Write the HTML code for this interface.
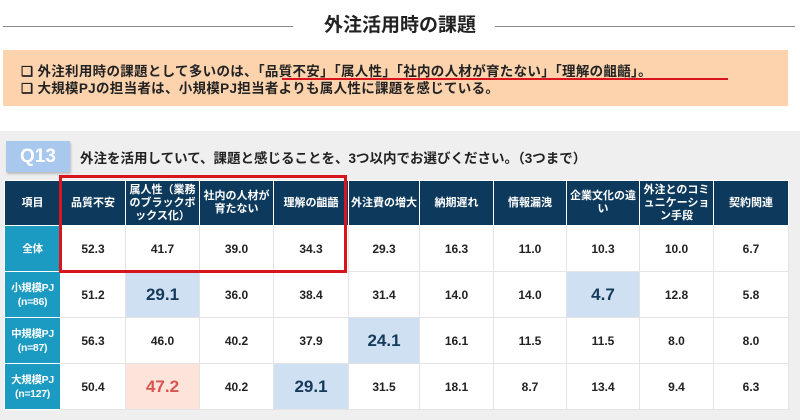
<!DOCTYPE html>
<html><head><meta charset="utf-8"><style>
*{margin:0;padding:0;box-sizing:border-box}
body{width:800px;height:420px;background:#fff;position:relative;overflow:hidden;font-family:"Liberation Sans","Noto Sans CJK JP",sans-serif;color:#222}
.ln{position:absolute;top:26px;height:1px;background:#888}
#title{position:absolute;top:10px;left:0;width:800px;text-align:center;font-size:19px;font-weight:bold;color:#222}
#box{position:absolute;left:3px;top:50px;width:785px;height:56px;background:#fcd3ad;font-size:13.5px;font-weight:bold;padding:13px 0 0 18px;line-height:17px;letter-spacing:0.3px;white-space:nowrap}
#ul{position:absolute;left:282px;top:78px;width:446px;height:2px;background:#d8141c}
#panel{position:absolute;left:0;top:131px;width:800px;height:289px;background:#efefef}
#q{position:absolute;left:6px;top:141px;width:64px;height:31px;background:#a9c8ee;color:#fff;font-size:19px;font-weight:bold;text-align:center;line-height:31px;box-shadow:1px 2px 2px #bbb}
#qt{position:absolute;left:80px;top:147px;font-size:13.5px;font-weight:bold;color:#222}
table{position:absolute;left:4px;top:180px;border-collapse:collapse;table-layout:fixed;background:#fff}
td,th{border:1px solid #e4e4e4;text-align:center;font-size:12px;font-weight:bold}
th{background:#0d3a5c;color:#fff;height:45px;font-size:11px;line-height:13px;border-color:#fff}
td.h{background:#1b9ac2;color:#fff;font-size:10.5px;line-height:14px;border-color:#fff;letter-spacing:-0.3px}
tr.r td{height:46px}
.b{background:#cfe0f2;color:#163a5a;font-size:17px}
.p{background:#fde4da;color:#d9534f;font-size:17px}
#red{position:absolute;left:59px;top:175px;width:288px;height:98px;border:3px solid #d8141c}
</style></head><body>
<div class="ln" style="left:3px;width:290px"></div>
<div class="ln" style="left:495px;width:300px"></div>
<div id="title">外注活用時の課題</div>
<div id="box">❑ 外注利用時の課題として多いのは、「品質不安」「属人性」「社内の人材が育たない」「理解の齟齬」。<br>❑ 大規模PJの担当者は、小規模PJ担当者よりも属人性に課題を感じている。</div>
<div id="ul"></div>
<div id="panel"></div>
<div id="q">Q13</div>
<div id="qt">外注を活用していて、課題と感じることを、3つ以内でお選びください。（3つまで）</div>
<table>
<colgroup><col style="width:56px"><col style="width:65px"><col style="width:74px"><col style="width:74px"><col style="width:75px"><col style="width:71px"><col style="width:74px"><col style="width:73px"><col style="width:73px"><col style="width:74px"><col style="width:75px"></colgroup>
<tr><th>項目</th><th>品質不安</th><th>属人性（業務のブラックボックス化）</th><th>社内の人材が育たない</th><th>理解の齟齬</th><th>外注費の増大</th><th>納期遅れ</th><th>情報漏洩</th><th>企業文化の違い</th><th>外注とのコミュニケーション手段</th><th>契約関連</th></tr>
<tr class="r"><td class="h">全体</td><td>52.3</td><td>41.7</td><td>39.0</td><td>34.3</td><td>29.3</td><td>16.3</td><td>11.0</td><td>10.3</td><td>10.0</td><td>6.7</td></tr>
<tr class="r"><td class="h">小規模PJ<br>(n=86)</td><td>51.2</td><td class="b">29.1</td><td>36.0</td><td>38.4</td><td>31.4</td><td>14.0</td><td>14.0</td><td class="b">4.7</td><td>12.8</td><td>5.8</td></tr>
<tr class="r"><td class="h">中規模PJ<br>(n=87)</td><td>56.3</td><td>46.0</td><td>40.2</td><td>37.9</td><td class="b">24.1</td><td>16.1</td><td>11.5</td><td>11.5</td><td>8.0</td><td>8.0</td></tr>
<tr class="r"><td class="h">大規模PJ<br>(n=127)</td><td>50.4</td><td class="p">47.2</td><td>40.2</td><td class="b">29.1</td><td>31.5</td><td>18.1</td><td>8.7</td><td>13.4</td><td>9.4</td><td>6.3</td></tr>
</table>
<div id="red"></div>
</body></html>
